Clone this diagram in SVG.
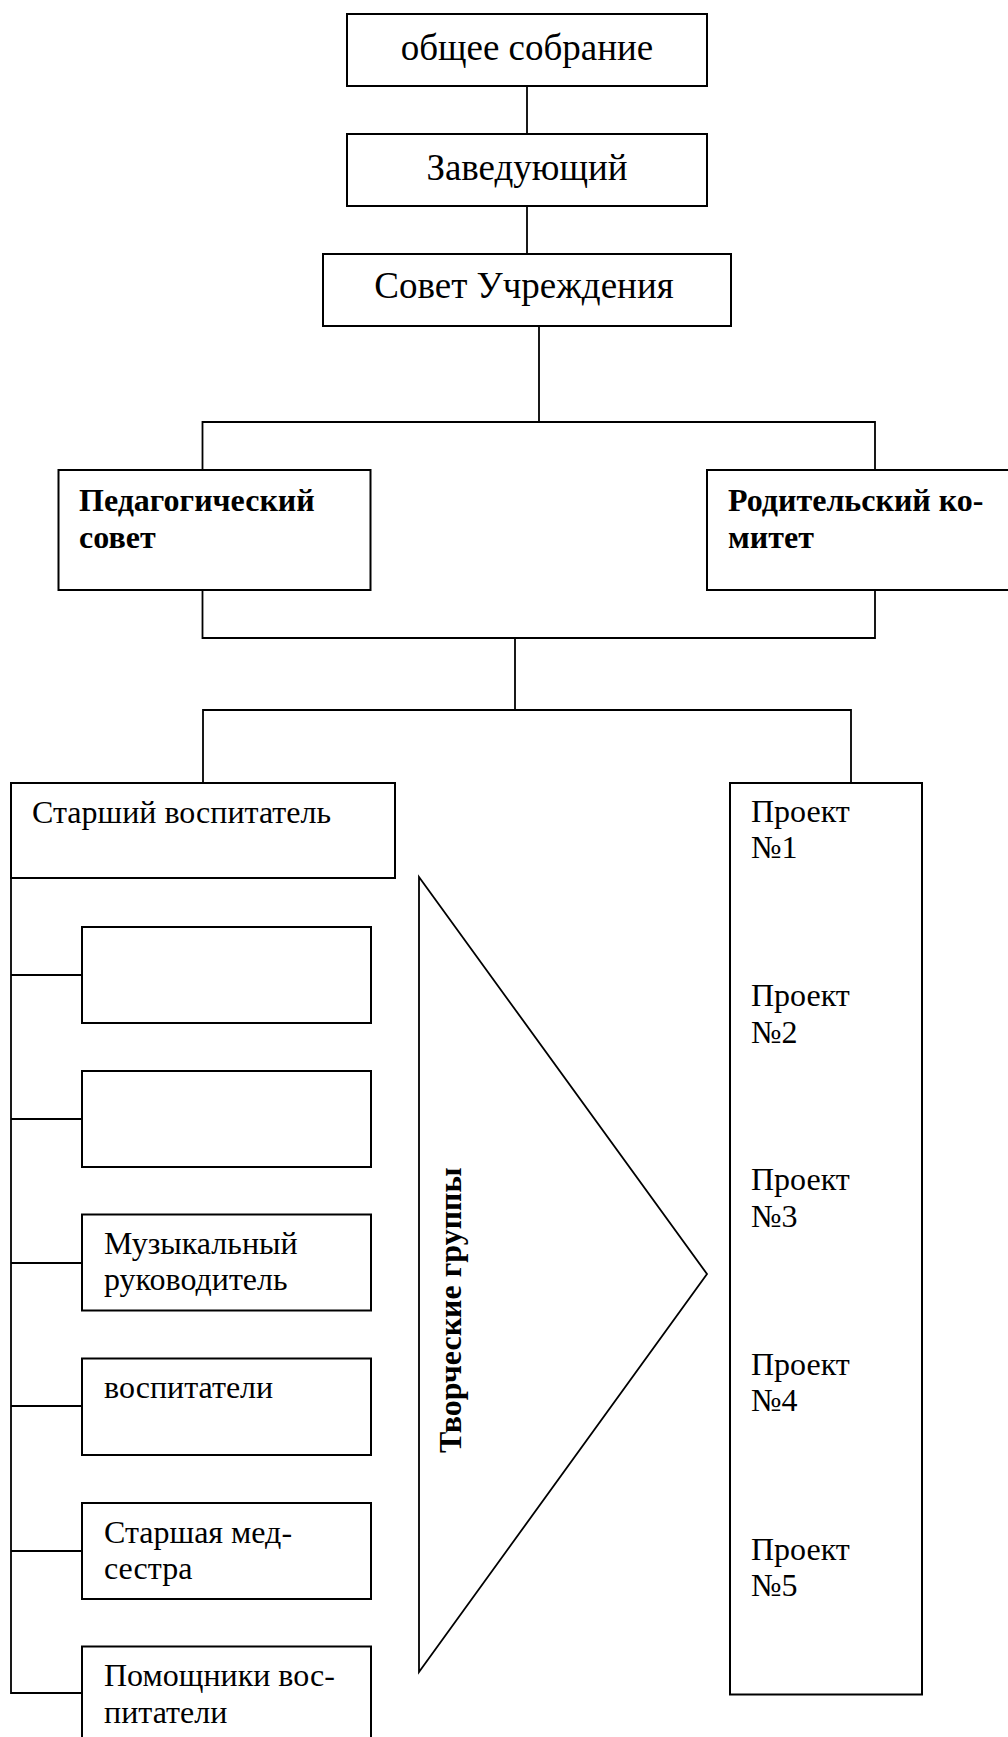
<svg xmlns="http://www.w3.org/2000/svg" width="1008" height="1737" viewBox="0 0 1008 1737">
<style>
.box{fill:#fff;stroke:#000;stroke-width:2}
.ln{fill:none;stroke:#000;stroke-width:1.8}
.t{font-family:"Liberation Serif","Times New Roman",serif;fill:#000}
.big{font-size:37px}
.mid{font-size:32px}
.b{font-size:32px;font-weight:bold}
</style>
<rect width="1008" height="1737" fill="#fff"/>
<g id="connectors">
<line class="ln" x1="527" y1="86" x2="527" y2="134"/>
<line class="ln" x1="527" y1="206" x2="527" y2="254"/>
<polyline class="ln" points="539,326 539,422"/>
<polyline class="ln" points="202.5,470 202.5,422 875,422 875,470"/>
<polyline class="ln" points="202.5,590 202.5,638 875,638 875,590"/>
<polyline class="ln" points="515,638 515,710"/>
<polyline class="ln" points="203,783 203,710 851,710 851,783"/>
<polyline class="ln" points="11,878 11,1693 82,1693"/>
<line class="ln" x1="11" y1="975" x2="82" y2="975"/>
<line class="ln" x1="11" y1="1119" x2="82" y2="1119"/>
<line class="ln" x1="11" y1="1263" x2="82" y2="1263"/>
<line class="ln" x1="11" y1="1406" x2="82" y2="1406"/>
<line class="ln" x1="11" y1="1551" x2="82" y2="1551"/>
</g>
<g id="n-sobranie"><rect class="box" x="347" y="14" width="360" height="72"/><text class="t big" x="527" y="60" text-anchor="middle">общее собрание</text></g>
<g id="n-zaveduyushchiy"><rect class="box" x="347" y="134" width="360" height="72"/><text class="t big" x="527" y="180" text-anchor="middle">Заведующий</text></g>
<g id="n-sovet"><rect class="box" x="323" y="254" width="408" height="72"/><text class="t big" x="524" y="298" text-anchor="middle">Совет Учреждения</text></g>
<g id="n-pedsovet"><rect class="box" x="58.5" y="470" width="312" height="120"/><text class="t b" x="79" y="511">Педагогический</text><text class="t b" x="79" y="548">совет</text></g>
<g id="n-roditeli"><rect class="box" x="707" y="470" width="310" height="120"/><text class="t b" x="728" y="511">Родительский ко-</text><text class="t b" x="728" y="548">митет</text></g>
<g id="n-starshiy"><rect class="box" x="11" y="783" width="384" height="95"/><text class="t mid" x="32" y="823">Старший воспитатель</text></g>
<g id="n-empty1"><rect class="box" x="82" y="927" width="289" height="96"/></g>
<g id="n-empty2"><rect class="box" x="82" y="1071" width="289" height="96"/></g>
<g id="n-muz"><rect class="box" x="82" y="1214.5" width="289" height="96"/><text class="t mid" x="104" y="1254">Музыкальный</text><text class="t mid" x="104" y="1290">руководитель</text></g>
<g id="n-vosp"><rect class="box" x="82" y="1358.5" width="289" height="96.5"/><text class="t mid" x="104" y="1398">воспитатели</text></g>
<g id="n-medsestra"><rect class="box" x="82" y="1503" width="289" height="96"/><text class="t mid" x="104" y="1543">Старшая мед-</text><text class="t mid" x="104" y="1579">сестра</text></g>
<g id="n-pomoshchniki"><rect class="box" x="82" y="1646.5" width="289" height="100"/><text class="t mid" x="104" y="1686">Помощники вос-</text><text class="t mid" x="104" y="1723">питатели</text></g>
<g id="n-tvorcheskie"><polygon class="ln" points="419,877 707,1274 419,1672"/><text class="t b" transform="translate(461,1453) rotate(-90)">Творческие группы</text></g>
<g id="n-proekty"><rect class="box" x="730" y="783" width="192" height="911.5"/>
<text class="t mid" x="751" y="822">Проект</text><text class="t mid" x="751" y="858">№1</text>
<text class="t mid" x="751" y="1006">Проект</text><text class="t mid" x="751" y="1043">№2</text>
<text class="t mid" x="751" y="1190">Проект</text><text class="t mid" x="751" y="1227">№3</text>
<text class="t mid" x="751" y="1375">Проект</text><text class="t mid" x="751" y="1411">№4</text>
<text class="t mid" x="751" y="1560">Проект</text><text class="t mid" x="751" y="1596">№5</text>
</g>
</svg>
